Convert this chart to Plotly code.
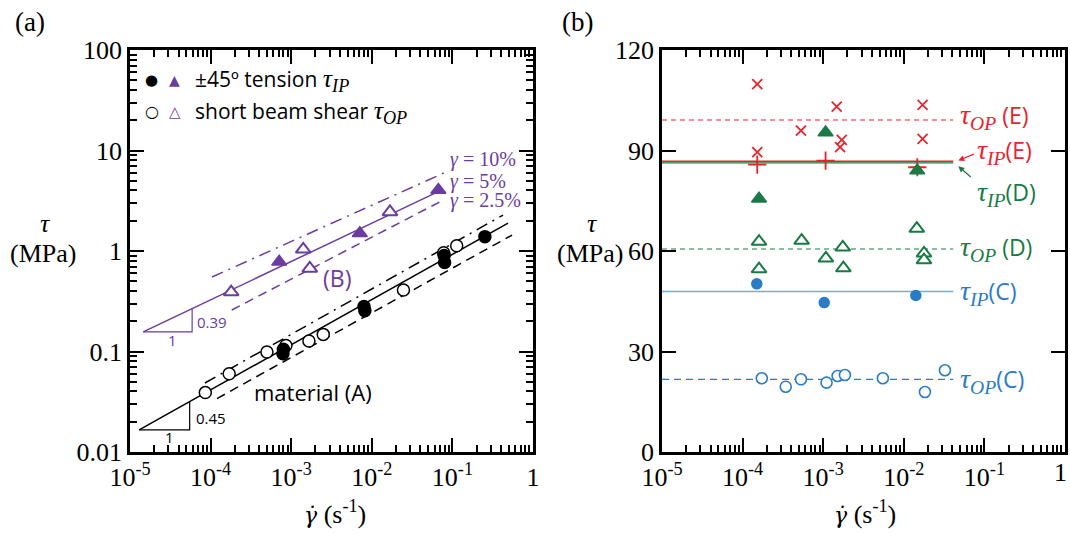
import plotly.graph_objects as go
import math

# ---------------- data: panel (a) ----------------
a_ip_x = [7.9e-4, 8.0e-4, 8.0e-3, 8.2e-3, 0.079, 0.080, 0.253]
a_ip_y = [0.095, 0.105, 0.28, 0.255, 0.90, 0.77, 1.39]
a_op_x = [8.6e-5, 1.7e-4, 5.0e-4, 8.6e-4, 1.66e-3, 2.5e-3, 0.0247, 0.078, 0.113]
a_op_y = [0.039, 0.060, 0.099, 0.115, 0.127, 0.148, 0.41, 0.96, 1.13]
b_ip_x = [7.1e-4, 7.1e-3, 0.067]
b_ip_y = [0.78, 1.5, 4.04]
b_op_x = [1.8e-4, 1.41e-3, 1.7e-3, 0.0168]
b_op_y = [0.39, 1.04, 0.67, 2.45]

# fitted lines (end points)
fitA_5_x, fitA_5_y = [1.30e-5, 0.49], [0.0166, 1.89]
fitA_10_x, fitA_10_y = [8.5e-5, 0.425], [0.0486, 2.28]
fitA_25_x, fitA_25_y = [1.2e-4, 0.55], [0.034, 1.44]
fitB_5_x, fitB_5_y = [1.46e-5, 0.0668], [0.157, 3.9]
fitB_10_x, fitB_10_y = [1.04e-4, 0.085], [0.551, 6.15]
fitB_25_x, fitB_25_y = [1.83e-4, 0.077], [0.259, 3.21]
# slope triangles
triA_x, triA_y = [1.30e-5, 5.5e-5, 5.5e-5], [0.0166, 0.0166, 0.0316]
triB_x, triB_y = [1.46e-5, 5.9e-5, 5.9e-5], [0.157, 0.157, 0.268]

# ---------------- data: panel (b) ----------------
E_op_x = [1.52e-4, 1.52e-4, 5.3e-4, 1.47e-3, 1.7e-3, 1.62e-3, 0.0171, 0.0171]
E_op_y = [109.8, 89.5, 95.9, 103.1, 93.2, 91.0, 103.6, 93.5]
E_ip_x = [1.52e-4, 1.07e-3, 0.0147]
E_ip_y = [85.8, 87.0, 85.0]
D_ip_x = [1.07e-3, 1.6e-4, 0.0147]
D_ip_y = [95.4, 75.6, 84.0]
D_op_x = [1.6e-4, 1.6e-4, 5.4e-4, 1.08e-3, 1.75e-3, 1.78e-3, 0.0145, 0.0178, 0.0178]
D_op_y = [62.8, 54.6, 63.1, 57.8, 61.1, 54.9, 66.7, 59.3, 57.3]
C_ip_x = [1.5e-4, 1.03e-3, 0.0141]
C_ip_y = [50.2, 44.6, 46.7]
C_op_x = [1.73e-4, 3.43e-4, 5.3e-4, 1.1e-3, 1.51e-3, 1.86e-3, 5.5e-3, 0.0183, 0.0324]
C_op_y = [22.0, 19.5, 21.7, 20.7, 22.7, 23.0, 22.0, 17.9, 24.4]
mean_x = [1e-5, 0.041]
E_op_mean, E_ip_mean = 99.1, 86.8
D_ip_mean, D_op_mean = 86.3, 60.6
C_ip_mean, C_op_mean = 47.9, 21.7

# ticks
x_tickvals = [1e-5, 1e-4, 1e-3, 1e-2, 1e-1, 1]
x_ticktext = ["10<sup>-5</sup>", "10<sup>-4</sup>", "10<sup>-3</sup>", "10<sup>-2</sup>", "10<sup>-1</sup>", "1"]
ya_tickvals = [0.01, 0.1, 1, 10, 100]
ya_ticktext = ["0.01", "0.1", "1", "10", "100"]
yb_tickvals = [0, 30, 60, 90, 120]

PURPLE = "#6a3d9e"
RED = "#e8232b"
GREEN = "#1a7a45"
BLUE = "#2a7cc6"
LBLUE = "#6cb0e4"
SERIF = "Liberation Serif"
SANS = "Open Sans"

fig = go.Figure()

def line(x, y, color, dash="solid", width=1.5, xa="x", ya="y"):
    fig.add_trace(go.Scatter(x=x, y=y, mode="lines", xaxis=xa, yaxis=ya,
                             line=dict(color=color, width=width, dash=dash),
                             showlegend=False, hoverinfo="skip"))

def pts(x, y, symbol, color, size, fill, lw=1.5, xa="x", ya="y"):
    fig.add_trace(go.Scatter(x=x, y=y, mode="markers", xaxis=xa, yaxis=ya,
                             marker=dict(symbol=symbol, size=size, color=fill,
                                         line=dict(color=color, width=lw)),
                             showlegend=False, hoverinfo="skip"))

DASH = "9px,6px"
DASHDOT = "12px,6px,2px,6px"
# panel a lines
line(fitA_5_x, fitA_5_y, "black")
line(fitA_10_x, fitA_10_y, "black", DASHDOT)
line(fitA_25_x, fitA_25_y, "black", DASH)
line(fitB_5_x, fitB_5_y, PURPLE)
line(fitB_10_x, fitB_10_y, PURPLE, DASHDOT)
line(fitB_25_x, fitB_25_y, PURPLE, DASH)
line(triA_x, triA_y, "black", width=1.2)
line(triB_x, triB_y, PURPLE, width=1.2)
# panel a markers
pts(a_op_x, a_op_y, "circle", "black", 12, "white")
pts(a_ip_x, a_ip_y, "circle", "black", 12, "black")
pts(b_op_x, b_op_y, "triangle-up", PURPLE, 13, "white", lw=2)
pts(b_ip_x, b_ip_y, "triangle-up", PURPLE, 13, PURPLE)

# panel b lines
line(mean_x, [D_ip_mean] * 2, GREEN, xa="x2", ya="y2", width=1.3)
line(mean_x, [E_ip_mean] * 2, RED, xa="x2", ya="y2", width=1.5)
line(mean_x, [E_op_mean] * 2, RED, "5px,4px", xa="x2", ya="y2", width=1.2)
line(mean_x, [D_op_mean] * 2, GREEN, "5px,4px", xa="x2", ya="y2", width=1.2)
line(mean_x, [C_ip_mean] * 2, LBLUE, xa="x2", ya="y2", width=1.5)
line(mean_x, [C_op_mean] * 2, BLUE, "7px,5px", xa="x2", ya="y2", width=1.3)
# panel b markers
pts(E_op_x, E_op_y, "x-thin", RED, 10, RED, lw=1.8, xa="x2", ya="y2")
pts(E_ip_x, E_ip_y, "cross-thin", RED, 13, RED, lw=1.8, xa="x2", ya="y2")
pts(D_op_x, D_op_y, "triangle-up", GREEN, 13, "white", lw=2, xa="x2", ya="y2")
pts(D_ip_x, D_ip_y, "triangle-up", GREEN, 13, GREEN, xa="x2", ya="y2")
pts(C_ip_x, C_ip_y, "circle", BLUE, 10, BLUE, xa="x2", ya="y2")
pts(C_op_x, C_op_y, "circle", BLUE, 11, "white", lw=1.6, xa="x2", ya="y2")

# minor tick values for log axes
x_minor = [m * 10 ** e for e in range(-5, 0) for m in range(2, 10)]
y_minor = [m * 10 ** e for e in range(-2, 2) for m in range(2, 10)]

TICKFONT = dict(family=SERIF, size=26, color="black")
common = dict(showline=True, linecolor="black", linewidth=2.5, mirror="allticks",
              ticks="inside", tickcolor="black", tickwidth=2, showgrid=False,
              zeroline=False, tickfont=TICKFONT, automargin=False,
              ticklabeloverflow="allow")

xdom_a = [130 / 1070, 533 / 1070]
xdom_b = [662 / 1070, 1065 / 1070]
ydom = [1 - 452 / 535, 1 - 50 / 535]

# the last label of panel (b) sits on the page edge; it is drawn as an annotation
xb_ticktext = x_ticktext[:-1] + [""]

minor_x = dict(ticks="inside", ticklen=7, tickwidth=1.5, tickcolor="black",
               tickmode="array", tickvals=x_minor, showgrid=False)
fig.update_layout(
    width=1070, height=535,
    margin=dict(l=0, r=0, t=0, b=0, pad=0, autoexpand=False),
    font=dict(family=SERIF, color="black"),
    paper_bgcolor="white", plot_bgcolor="white", showlegend=False,
    xaxis=dict(type="log", range=[-5, 0], domain=xdom_a, anchor="y",
               tickmode="array", tickvals=x_tickvals, ticktext=x_ticktext,
               ticklen=14, minor=minor_x, **common),
    yaxis=dict(type="log", range=[-2, 2], domain=ydom, anchor="x",
               tickmode="array", tickvals=ya_tickvals, ticktext=ya_ticktext,
               ticklen=14,
               minor=dict(ticks="inside", ticklen=7, tickwidth=1.5, tickcolor="black",
                          tickmode="array", tickvals=y_minor, showgrid=False),
               **common),
    xaxis2=dict(type="log", range=[-5, 0], domain=xdom_b, anchor="y2",
                tickmode="array", tickvals=x_tickvals, ticktext=xb_ticktext,
                ticklen=14, minor=minor_x, **common),
    yaxis2=dict(range=[0, 120], domain=ydom, anchor="x2",
                tickmode="array", tickvals=yb_tickvals, ticklen=14, **common),
)

ann = []
def txt(x, y, text, size, color="black", family=SANS, xanchor="center",
        yanchor="middle", xref="x", yref="y", **kw):
    ann.append(dict(x=x, y=y, text=text, xref=xref, yref=yref, showarrow=False,
                    xanchor=xanchor, yanchor=yanchor,
                    font=dict(family=family, size=size, color=color), **kw))

def tau(sub, size):
    return (f"<span style='font-family:Liberation Serif;font-size:{size}px'><i>τ</i>"
            f"<sub><i>{sub}</i></sub></span>")

# last tick label of panel (b)
txt(math.log10(x_tickvals[-1]), ydom[0], x_ticktext[-1], 26, family=SERIF,
    xref="x2", yref="paper", yanchor="top", xshift=-5, yshift=-4)

# panel labels and axis titles
txt(30 / 1070, 1 - 22 / 535, "(a)", 27, family=SERIF, xref="paper", yref="paper")
txt(577 / 1070, 1 - 22 / 535, "(b)", 27, family=SERIF, xref="paper", yref="paper")
for cx in (45, 592):
    txt(cx / 1070, 1 - 223 / 535, "<i>τ</i>", 26, family=SERIF, xref="paper", yref="paper")
    txt((cx - 2) / 1070, 1 - 253 / 535, "(MPa)", 26, family=SERIF, xref="paper", yref="paper")
GDOT = "<span style='font-family:DejaVu Serif;font-size:22px'><i>γ̇</i></span>"
for cx in (335, 865):
    txt(cx / 1070, 1 - 512 / 535, GDOT + " (s<sup>-1</sup>)", 26, family=SERIF,
        xref="paper", yref="paper")

# legend (panel a)
txt(-4.731, 1.70, "●", 15, family="DejaVu Sans")
txt(-4.442, 1.70, "▲", 14, color=PURPLE, family="DejaVu Sans")
txt(-4.218, 1.70, "±45º tension " + tau("IP", 26), 21, xanchor="left")
txt(-4.731, 1.386, "○", 16, family="DejaVu Sans")
txt(-4.442, 1.386, "△", 15, color=PURPLE, family="DejaVu Sans")
txt(-4.218, 1.386, "short beam shear " + tau("OP", 26), 21, xanchor="left")

# panel a labels
txt(-4.206, -1.662, "0.45", 15, xanchor="left")
txt(-4.504, -1.851, "1", 15)
txt(-4.194, -0.703, "0.39", 15, color=PURPLE, xanchor="left")
txt(-4.47, -0.886, "1", 15, color=PURPLE)
txt(-2.437, -0.272, "(B)", 23, color=PURPLE)
txt(-2.726, -1.40, "material (A)", 22)
txt(-1.055, 0.906, "<i>γ</i> = 10%", 20, color=PURPLE, family=SERIF, xanchor="left")
txt(-1.055, 0.687, "<i>γ</i> = 5%", 20, color=PURPLE, family=SERIF, xanchor="left")
txt(-1.055, 0.507, "<i>γ</i> = 2.5%", 20, color=PURPLE, family=SERIF, xanchor="left")

# panel b labels
def txt2(x, y, text, color):
    txt(x, y, text, 23, color=color, xanchor="left", xref="x2", yref="y2")
txt2(-1.328, 100.2, tau("OP", 28) + " (E)", RED)
txt2(-1.117, 89.8, tau("IP", 28) + "(E)", RED)
txt2(-1.117, 77.3, tau("IP", 28) + "(D)", GREEN)
txt2(-1.328, 60.6, tau("OP", 28) + " (D)", GREEN)
txt2(-1.328, 47.6, tau("IP", 28) + "(C)", BLUE)
txt2(-1.328, 21.2, tau("OP", 28) + "(C)", BLUE)

# arrows
ann.append(dict(x=-1.324, y=87.0, xref="x2", yref="y2", ax=17, ay=-7, text="",
                showarrow=True, arrowhead=2, arrowsize=1, arrowwidth=1.2, arrowcolor=RED))
ann.append(dict(x=-1.324, y=85.3, xref="x2", yref="y2", ax=14, ay=12, text="",
                showarrow=True, arrowhead=2, arrowsize=1, arrowwidth=1.2, arrowcolor=GREEN))

fig.update_layout(annotations=ann)
fig.write_html("out.html")
